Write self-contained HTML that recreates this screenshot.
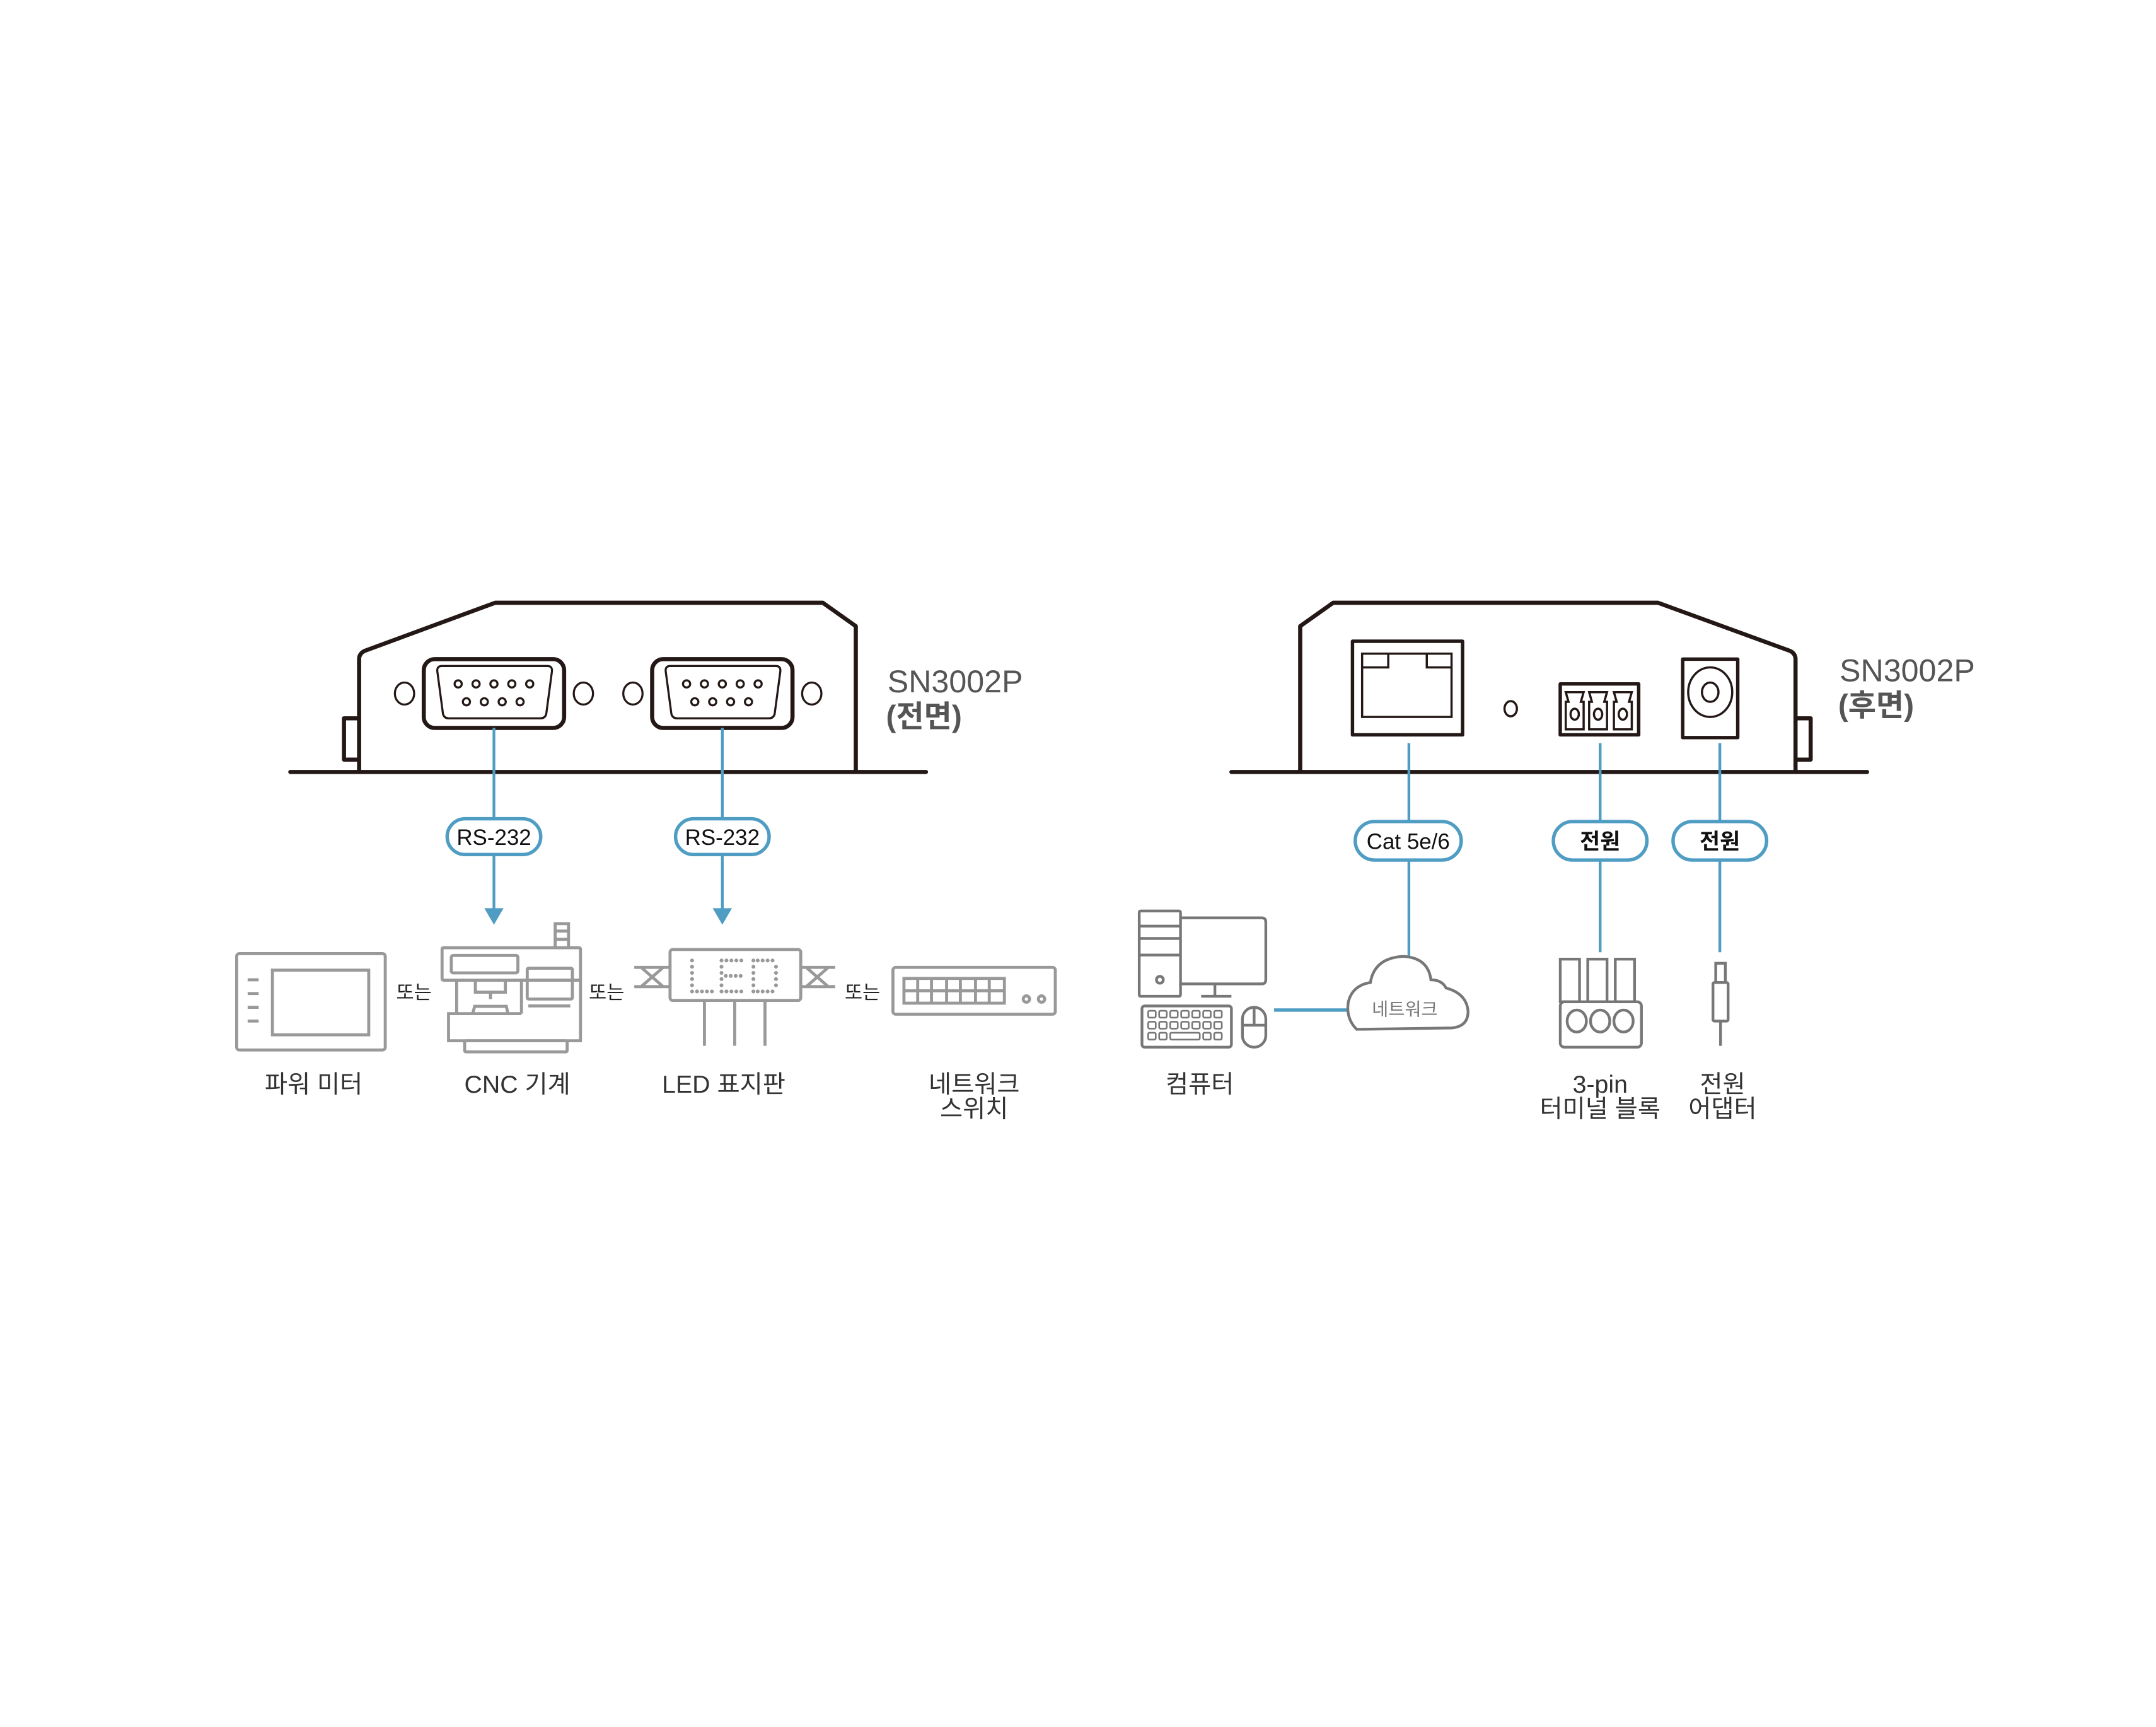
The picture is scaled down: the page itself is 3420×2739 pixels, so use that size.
<!DOCTYPE html>
<html><head><meta charset="utf-8"><style>
html,body{margin:0;padding:0;background:#fff;}
svg{display:block;}
text{font-family:"Liberation Sans","Noto Sans CJK KR",sans-serif;}
</style></head><body>
<svg width="3420" height="2739" viewBox="0 0 1567 1255" preserveAspectRatio="none" xmlns="http://www.w3.org/2000/svg">
<defs>
<g id="dcol"><circle cx="0" cy="0" r="1.4"/><circle cx="0" cy="4.5" r="1.4"/><circle cx="0" cy="9" r="1.4"/><circle cx="0" cy="13.5" r="1.4"/><circle cx="0" cy="18" r="1.4"/><circle cx="0" cy="22.5" r="1.4"/></g>
<g id="drow"><circle cx="0" cy="0" r="1.4"/><circle cx="3.6" cy="0" r="1.4"/><circle cx="7.2" cy="0" r="1.4"/><circle cx="10.8" cy="0" r="1.4"/></g>
<g id="krow"><rect x="0" y="0" width="5.5" height="5" rx="1"/><rect x="8" y="0" width="5.5" height="5" rx="1"/><rect x="16" y="0" width="5.5" height="5" rx="1"/><rect x="24" y="0" width="5.5" height="5" rx="1"/><rect x="32" y="0" width="5.5" height="5" rx="1"/><rect x="40" y="0" width="5.5" height="5" rx="1"/><rect x="48" y="0" width="5.5" height="5" rx="1"/></g>
</defs>
<rect width="1567" height="1255" fill="#fff"/>
<!-- LEFT DEVICE -->
<g fill="none" stroke="#231815" stroke-width="3" stroke-linejoin="round">
<line x1="211" y1="561" x2="673" y2="561" stroke-linecap="round"/>
<path d="M261 561 V479 Q261 475 265 473 L360 438 H598 L622 455 V561"/>
<path d="M261 522 H250 V552 H261"/>
<rect x="308" y="479" width="102" height="50" rx="8"/>
<rect x="474" y="479" width="102" height="50" rx="8"/>
</g>
<g fill="none" stroke="#231815" stroke-width="1.5">
<path d="M321 484 H398 Q402 484 401 489 L397 519 Q396 522 393 522 H326 Q323 522 322 519 L318 489 Q317 484 321 484Z"/>
<path d="M487 484 H564 Q568 484 567 489 L563 519 Q562 522 559 522 H492 Q489 522 488 519 L484 489 Q483 484 487 484Z"/>
<ellipse cx="294" cy="504" rx="7" ry="8"/><ellipse cx="424" cy="504" rx="7" ry="8"/>
<ellipse cx="460" cy="504" rx="7" ry="8"/><ellipse cx="590" cy="504" rx="7" ry="8"/>
<g id="pins">
<circle cx="333" cy="497" r="2.6"/><circle cx="346" cy="497" r="2.6"/><circle cx="359" cy="497" r="2.6"/><circle cx="372" cy="497" r="2.6"/><circle cx="385" cy="497" r="2.6"/>
<circle cx="339" cy="510" r="2.6"/><circle cx="352" cy="510" r="2.6"/><circle cx="365" cy="510" r="2.6"/><circle cx="378" cy="510" r="2.6"/>
</g>
<use href="#pins" x="166"/>
</g>
<text x="645" y="503" font-size="23" fill="#555">SN3002P</text>
<text x="644" y="528" font-size="22" fill="#555" font-weight="bold">(전면)</text>
<!-- left connectors -->
<g stroke="#4f9dc3" stroke-width="2" fill="none">
<line x1="359" y1="529" x2="359" y2="595"/><line x1="359" y1="621" x2="359" y2="662"/>
<line x1="525" y1="529" x2="525" y2="595"/><line x1="525" y1="621" x2="525" y2="662"/>
<rect x="325" y="595" width="68" height="26" rx="13" stroke-width="2.5"/>
<rect x="491" y="595" width="68" height="26" rx="13" stroke-width="2.5"/>
</g>
<polygon points="352,660 366,660 359,672" fill="#4f9dc3"/>
<polygon points="518,660 532,660 525,672" fill="#4f9dc3"/>
<text x="359" y="614" font-size="16" text-anchor="middle" fill="#111">RS-232</text>
<text x="525" y="614" font-size="16" text-anchor="middle" fill="#111">RS-232</text>
<!-- left icons -->
<g fill="none" stroke="#999" stroke-width="2.2">
<rect x="172" y="693" width="108" height="70" rx="2"/>
<rect x="198" y="705" width="70" height="47"/>
<path d="M180 712 H188 M180 722 H188 M180 732 H188 M180 742 H188"/>
<!-- CNC -->
<rect x="321.3" y="688.7" width="100.6" height="23.6" rx="1"/>
<rect x="328" y="694.3" width="48.4" height="12.7" rx="1.5"/>
<rect x="383.2" y="703.6" width="32.8" height="22.4" rx="1"/>
<line x1="384" y1="731" x2="414.5" y2="731"/>
<path d="M331.9 712.3 V736.6 M379 712.3 V736.6"/>
<path d="M345.5 712.3 V721 H367.3 V712.3 M356.5 721 V726"/>
<path d="M343.5 736.6 L345 731.3 H368 L369.2 736.6"/>
<path d="M379 712.3 H421.9 V756.3 H326 V736.6 H379"/>
<rect x="337.7" y="756.3" width="74.5" height="8.1" rx="1"/>
<path d="M403.5 688.7 V671.2 H413.2 V688.7 M403.5 676.6 H413.2 M403.5 682.6 H413.2"/>
<!-- LED -->
<rect x="487" y="690" width="95" height="37" rx="2"/>
<path d="M512 727 V760 M534 727 V760 M556 727 V760"/>
<path d="M461 703 H487 M461 717 H487 M466 703 L482 717 M482 703 L466 717"/>
<path d="M582 703 H607 M582 717 H607 M586 703 L602 717 M602 703 L586 717"/>
<!-- switch -->
<rect x="649" y="703" width="118" height="34" rx="2"/>
<rect x="657" y="711" width="73" height="18"/>
<path d="M667 711 V729 M677 711 V729 M688 711 V729 M698 711 V729 M709 711 V729 M719 711 V729 M657 720 H730"/>
<circle cx="746" cy="726" r="2.3"/><circle cx="757" cy="726" r="2.3"/>
</g>
<!-- LED dots -->
<g fill="#999">
<use href="#dcol" x="503" y="698"/><use href="#drow" x="506.6" y="720.5"/>
<use href="#dcol" x="524.4" y="698"/><use href="#drow" x="528" y="698"/><use href="#drow" x="527.5" y="709.2"/><use href="#drow" x="528" y="720.5"/>
<use href="#dcol" x="547.6" y="698"/><use href="#drow" x="550.7" y="698"/><use href="#drow" x="550.7" y="720.5"/>
<circle cx="564" cy="702.5" r="1.4"/><circle cx="564" cy="707" r="1.4"/><circle cx="564" cy="711.5" r="1.4"/><circle cx="564" cy="716" r="1.4"/>
</g>
<g font-size="14" fill="#222">
<text x="288" y="726">또는</text><text x="428" y="726">또는</text><text x="614" y="726">또는</text>
</g>
<g font-size="18" fill="#333" text-anchor="middle">
<text x="228" y="794">파워 미터</text>
<text x="376" y="794">CNC 기계</text>
<text x="526" y="794">LED 표지판</text>
<text x="708" y="794">네트워크</text>
<text x="708" y="812">스위치</text>
<text x="872" y="794">컴퓨터</text>
<text x="1163" y="794">3-pin</text>
<text x="1163" y="812">터미널 블록</text>
<text x="1252" y="794">전원</text>
<text x="1252" y="812">어댑터</text>
</g>
<!-- RIGHT DEVICE -->
<g fill="none" stroke="#231815" stroke-width="3" stroke-linejoin="round">
<line x1="895" y1="561" x2="1357" y2="561" stroke-linecap="round"/>
<path d="M945 561 V455 L969 438 H1205 L1301 473 Q1305 475 1305 479 V561"/>
<path d="M1305 522 H1316 V552 H1305"/>
<rect x="983" y="466" width="80" height="68" stroke-width="2.5"/>
<rect x="1134" y="497" width="57" height="37" stroke-width="2.5"/>
<rect x="1223" y="479" width="40" height="57" stroke-width="2.5"/>
</g>
<g fill="none" stroke="#231815" stroke-width="1.6">
<rect x="990" y="475" width="65" height="46"/>
<path d="M990 485 H1009 V475 M1055 485 H1037 V475"/>
<ellipse cx="1098" cy="515" rx="4.5" ry="5.5"/>
<g id="tb"><path d="M1138 530 V510 H1140 L1138 503 H1151 L1149 510 H1151 V530 Z"/><ellipse cx="1144.5" cy="519" rx="3" ry="4"/></g>
<use href="#tb" x="17"/><use href="#tb" x="35"/>
<ellipse cx="1243" cy="503" rx="16" ry="18"/>
<ellipse cx="1243" cy="503" rx="6" ry="7"/>
</g>
<text x="1337" y="495" font-size="23" fill="#555">SN3002P</text>
<text x="1336" y="520" font-size="22" fill="#555" font-weight="bold">(후면)</text>
<g stroke="#4f9dc3" stroke-width="2" fill="none">
<line x1="1024" y1="540" x2="1024" y2="597"/><line x1="1024" y1="625" x2="1024" y2="696"/>
<line x1="1163" y1="540" x2="1163" y2="597"/><line x1="1163" y1="625" x2="1163" y2="692"/>
<line x1="1250" y1="540" x2="1250" y2="597"/><line x1="1250" y1="625" x2="1250" y2="692"/>
<line x1="926" y1="734" x2="980" y2="734" stroke-width="2.5"/>
<rect x="985" y="597" width="77" height="28" rx="14" stroke-width="2.5"/>
<rect x="1129" y="597" width="68" height="28" rx="14" stroke-width="2.5"/>
<rect x="1216" y="597" width="68" height="28" rx="14" stroke-width="2.5"/>
</g>
<text x="1023.5" y="617" font-size="16" text-anchor="middle" fill="#111">Cat 5e/6</text>
<text x="1163" y="617" font-size="16" text-anchor="middle" fill="#111" font-weight="bold">전원</text>
<text x="1250" y="617" font-size="16" text-anchor="middle" fill="#111" font-weight="bold">전원</text>
<g fill="none" stroke="#777" stroke-width="2">
<!-- computer -->
<rect x="828" y="662" width="30" height="62" rx="1"/>
<path d="M828 673 H858 M828 682 H858 M828 694 H858"/>
<circle cx="843" cy="712" r="2.5"/>
<path d="M858 667 H917 Q920 667 920 670 V712 Q920 715 917 715 H858"/>
<path d="M883 715 V723 M873 724 H895"/>
<rect x="830" y="731" width="65" height="30" rx="2"/>
<g stroke-width="1.2"><use href="#krow" x="834.5" y="734.5"/><use href="#krow" x="834.5" y="742.5"/>
<rect x="834.5" y="750.5" width="5.5" height="5" rx="1"/><rect x="842.5" y="750.5" width="5.5" height="5" rx="1"/><rect x="850.5" y="750.5" width="21.5" height="5" rx="1"/><rect x="874.5" y="750.5" width="5.5" height="5" rx="1"/><rect x="882.5" y="750.5" width="5.5" height="5" rx="1"/></g>
<rect x="903" y="732" width="17" height="29" rx="8.5"/>
<path d="M911.5 732 V745 M903 745 H920"/>
<!-- cloud -->
<path d="M986 748 Q978 740 980 728 Q983 716 996 714 Q999 696 1020 695 Q1038 696 1040 712 Q1048 712 1051 718 Q1066 722 1067 735 Q1067 746 1055 747 Z"/>
<!-- terminal plug -->
<rect x="1134" y="697" width="14" height="31"/><rect x="1154" y="697" width="14" height="31"/><rect x="1174" y="697" width="14" height="31"/>
<rect x="1134" y="728" width="59" height="33" rx="3"/>
<ellipse cx="1146" cy="742" rx="7" ry="8"/><ellipse cx="1163" cy="742" rx="7" ry="8"/><ellipse cx="1180" cy="742" rx="7" ry="8"/>
<!-- adapter -->
<rect x="1247" y="700" width="7" height="14"/>
<rect x="1245" y="714" width="11" height="28" rx="1"/>
<line x1="1250.5" y1="742" x2="1250.5" y2="760"/>
</g>
<text x="1021" y="738" font-size="13" text-anchor="middle" fill="#777">네트워크</text>
</svg>
</body></html>
